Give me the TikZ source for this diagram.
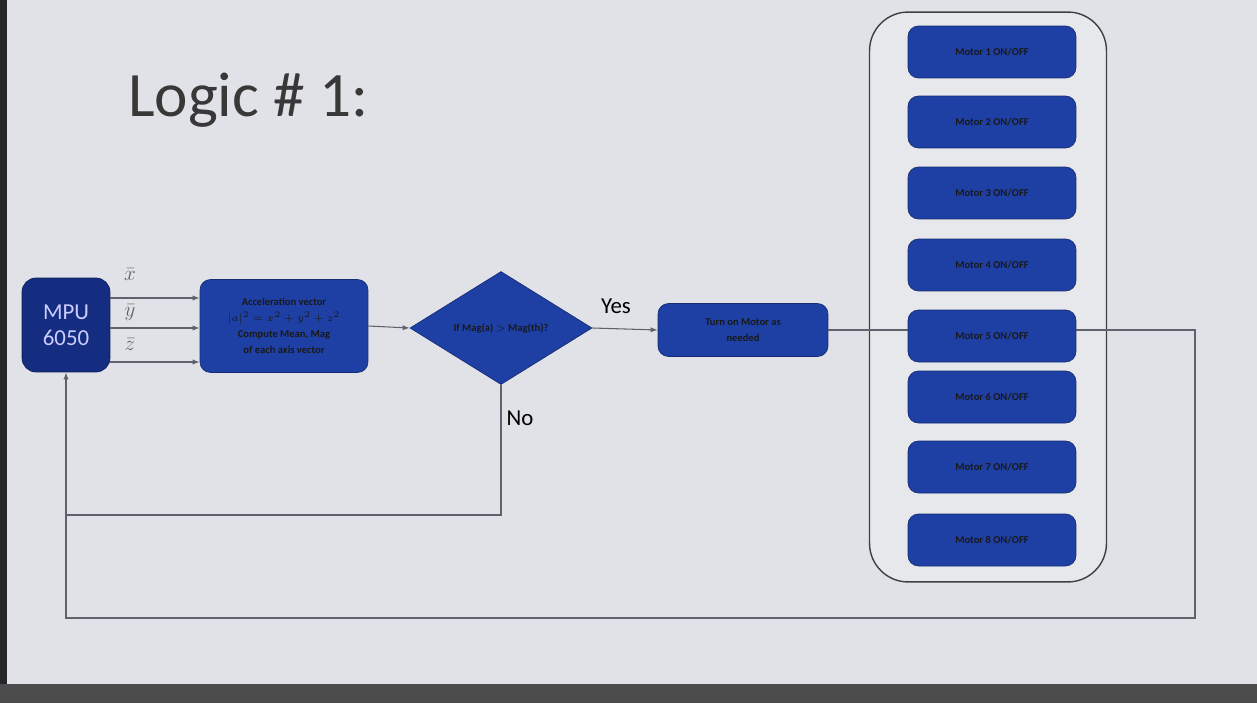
\documentclass[tikz,border=0pt]{standalone}
\usepackage{fontspec}
\setmainfont{Carlito}
\usetikzlibrary{shapes.geometric,arrows.meta}

\definecolor{screen}{RGB}{224,226,231}
\definecolor{boxblue}{RGB}{30,64,165}
\definecolor{mpublue}{RGB}{20,45,128}
\definecolor{wire}{RGB}{95,97,108}

\tikzset{
	blockbox/.style={draw=boxblue!70!black, fill=boxblue, rounded corners=6pt, align=center, text=black!90, font=\fontsize{6}{9}\selectfont\bfseries},
	motorbox/.style={blockbox, minimum width=3.36cm, minimum height=1.04cm},
	wire/.style={draw=wire, line width=0.6pt},
	flow/.style={wire, -{Latex[length=4pt,width=3pt]}},
	axislabel/.style={text=black!60, font=\large},
}

\begin{document}
\begin{tikzpicture}[x=0.02cm, y=-0.02cm]
	\useasboundingbox (0,0) rectangle (1257,703);
	\fill[screen] (0,0) rectangle (1257,703);
	\fill[black!85] (0,0) rectangle (7,703);
	\fill[black!70] (0,684) rectangle (1257,703);
	
	\node[anchor=west, text=black!78, font=\fontsize{36}{40}\selectfont] (title) at (122,100) {Logic \# 1:};
	
	% right column of motors
	\node[draw=black!75, line width=0.8pt, fill=screen!80!white, rounded corners=22pt, minimum width=4.74cm, minimum height=11.4cm] (column) at (988,297) {};
	
	\node[draw=mpublue!70!black, fill=mpublue, rounded corners=8pt, minimum width=1.76cm, minimum height=1.88cm, align=center, text=white!80!blue, font=\fontsize{13}{15}\selectfont] (mpu) at (66,325) {MPU\\6050};
	\node[blockbox, minimum width=3.36cm, minimum height=1.86cm] (calc) at (284,326) {Acceleration vector\\$|a|^2=x^2+y^2+z^2$\\Compute Mean, Mag\\of each axis vector};
	\node[diamond, draw=boxblue!70!black, fill=boxblue, minimum width=3.64cm, minimum height=2.26cm, inner sep=0pt, text=black!90, font=\fontsize{6}{7}\selectfont\bfseries] (check) at (501,328) {If Mag(a) $>$ Mag(th)?};
	\node[blockbox, minimum width=3.4cm, minimum height=1.06cm] (turn) at (743,330) {Turn on Motor as\\needed};
	
	\node[axislabel] (xlab) at (130,275) {$\bar{x}$};
	\node[axislabel] (ylab) at (130,313) {$\bar{y}$};
	\node[axislabel] (zlab) at (130,345) {$\bar{z}$};
	\node[font=\fontsize{13}{15}\selectfont] (yes) at (616,306) {Yes};
	\node[font=\fontsize{13}{15}\selectfont] (no) at (520,418) {No};
	
	\draw[flow] (mpu.east |- 0,298) -- (calc.west |- 0,298);
	\draw[flow] (mpu.east |- 0,328) -- (calc.west |- 0,328);
	\draw[flow] (mpu.east |- 0,362) -- (calc.west |- 0,362);
	\draw[flow] (calc.east) -- (check.west);
	\draw[flow] (check.east) -- (turn.west);
	
	\coordinate (loopright) at (1195,330);
	\coordinate (loopcorner) at (1195,618);
	\coordinate (loopleft) at (66,618);
	\coordinate (nocorner) at (501,515);
	\draw[flow] (turn.east) -- (loopright) -- (loopcorner) -- (loopleft) -- (mpu.south);
	\draw[wire] (check.south) -- (nocorner) -- (nocorner -| mpu.south);
	
	\foreach \i/\y in {1/52,2/122,3/193,4/265,5/336,6/397,7/467,8/540}
		\node[motorbox] (motor\i) at (992,\y) {Motor \i{} ON/OFF};
\end{tikzpicture}
\end{document}
